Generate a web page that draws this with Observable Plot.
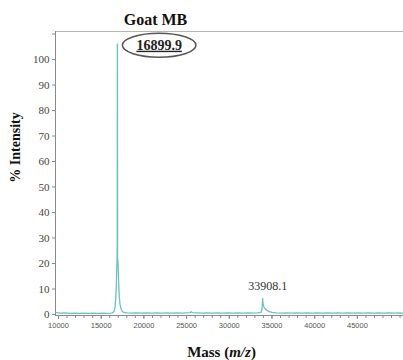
<!DOCTYPE html>
<html><head><meta charset="utf-8">
<script src="https://cdn.jsdelivr.net/npm/d3@7"></script>
<script src="https://cdn.jsdelivr.net/npm/@observablehq/plot@0.6"></script>
<style>body{margin:0;background:#fff}</style>
</head><body><div id="chart"></div>
<script>
// Spectrum (mass vs % intensity)
const masses = [9700, 10200, 10800, 11300, 11900, 12400, 13000, 13500, 14100, 14600, 15200, 15700, 16100, 16300, 16500, 16600, 16700, 16780, 16830, 16860, 16880, 16895, 16905, 16920, 16960, 17000, 17050, 17120, 17200, 17300, 17450, 17650, 18000, 18500, 19100, 19700, 20300, 20900, 21500, 22100, 22700, 23300, 23900, 24500, 25000, 25400, 25550, 25700, 26200, 26800, 27400, 28000, 28600, 29200, 29800, 30400, 31000, 31600, 32200, 32800, 33300, 33700, 33800, 33870, 33908, 33950, 34000, 34100, 34250, 34450, 34700, 35000, 35500, 36100, 36700, 37300, 37900, 38500, 39100, 39700, 40300, 40900, 41500, 42100, 42700, 43300, 43900, 44500, 45100, 45700, 46300, 46900, 47500, 48100, 48700, 49300, 49900, 50400];
const intensities = [0.7, 0.5, 0.6, 0.4, 0.5, 0.4, 0.5, 0.4, 0.5, 0.4, 0.5, 0.4, 0.5, 0.6, 1.2, 2.5, 6, 12, 19, 21, 30, 106, 106, 22, 21, 18, 12, 7, 4, 2.5, 1.3, 0.8, 0.6, 0.5, 0.6, 0.5, 0.6, 0.5, 0.6, 0.5, 0.6, 0.5, 0.6, 0.5, 0.6, 0.7, 1.1, 0.7, 0.6, 0.5, 0.6, 0.5, 0.6, 0.5, 0.6, 0.5, 0.6, 0.5, 0.6, 0.5, 0.6, 0.8, 1.5, 4, 6.3, 4.5, 3.5, 2.6, 2, 1.5, 1.1, 0.8, 0.6, 0.5, 0.6, 0.5, 0.6, 0.5, 0.6, 0.5, 0.6, 0.5, 0.6, 0.5, 0.6, 0.5, 0.6, 0.5, 0.6, 0.5, 0.6, 0.5, 0.6, 0.5, 0.6, 0.5, 0.6, 0.5];

const mainPeakLabel = ["16899.9"];
const mainPeakMass = [16899.9];
const mainPeakHeight = [106];
const dimerLabel = ["33908.1"];
const dimerMass = [33908.1];
const dimerHeight = [6.3];

const xMajorTicks = [10000, 15000, 20000, 25000, 30000, 35000, 40000, 45000];
const xMinorTicks = [10000, 11000, 12000, 13000, 14000, 15000, 16000, 17000, 18000, 19000, 20000, 21000, 22000, 23000, 24000, 25000, 26000, 27000, 28000, 29000, 30000, 31000, 32000, 33000, 34000, 35000, 36000, 37000, 38000, 39000, 40000, 41000, 42000, 43000, 44000, 45000, 46000, 47000, 48000, 49000, 50000];
const yTicks = [0, 10, 20, 30, 40, 50, 60, 70, 80, 90, 100, 110];
const xDomain = [9650, 50400];
const yDomain = [-0.4, 111];

const titleText = "Goat MB";
const yTitle = "% Intensity";

const data = masses.map((m, i) => ({mass: m, intensity: intensities[i]}));
const serif = "'Liberation Serif', 'Times New Roman', serif";

const plot = Plot.plot({
  width: 403, height: 360,
  marginLeft: 55, marginRight: 0, marginTop: 31, marginBottom: 45,
  x: {domain: xDomain},
  y: {domain: yDomain},
  style: {background: "white", overflow: "visible", fontFamily: serif},
  marks: [
    Plot.ruleY([yDomain[1]], {stroke: "#b5b5b5"}),
    Plot.ruleX([xDomain[0]], {stroke: "#8a8a8a"}),
    Plot.ruleY([yDomain[0]], {stroke: "#8a8a8a"}),
    Plot.axisY({ticks: yTicks, tickSize: 3, tickPadding: 3, fontSize: 11, fontFamily: serif,
      tickFormat: d => d === 110 ? "" : d, stroke: "#8a8a8a", fill: "#444", label: null}),
    Plot.axisX({ticks: xMinorTicks, tickSize: 3, stroke: "#8a8a8a", text: null, label: null}),
    Plot.axisX({ticks: xMajorTicks, tickSize: 4, tickPadding: 3, fontSize: 7.5,
      fontFamily: "'Liberation Sans', Arial, sans-serif", tickFormat: d => String(d),
      stroke: "#8a8a8a", fill: "#555", label: null}),
    Plot.line(data, {x: "mass", y: "intensity", stroke: "#6cc2be", strokeWidth: 1.3}),
    Plot.text(mainPeakLabel, {x: mainPeakMass, y: mainPeakHeight, text: d => d, textAnchor: "start",
      dx: 19, dy: 1, fontSize: 14, fontWeight: "bold", fontFamily: serif, fill: "#222"}),
    Plot.text(dimerLabel, {x: dimerMass, y: dimerHeight, text: d => d, dx: 5, dy: -12,
      fontSize: 12, fontFamily: serif, fill: "#333"}),
    Plot.text([titleText], {frameAnchor: "top-left", text: d => d, dx: 100, dy: -12,
      textAnchor: "middle", lineAnchor: "middle",
      fontSize: 16, fontWeight: "bold", fontFamily: serif, fill: "#111"}),
    Plot.text([yTitle], {frameAnchor: "left", text: d => d, dx: -40, dy: -26, rotate: -90,
      textAnchor: "middle", lineAnchor: "middle",
      fontSize: 14, fontWeight: "bold", fontFamily: serif, fill: "#111"}),
    Plot.text(["Mass (m/z)"], {frameAnchor: "bottom", text: d => d, dx: -8, dy: 37,
      textAnchor: "middle", lineAnchor: "middle",
      fontSize: 15, fontWeight: "bold", fontFamily: serif, fill: "#111"})
  ]
});
document.getElementById("chart").appendChild(plot);

const svg = d3.select(plot);
const svgRect = plot.getBoundingClientRect();
svg.selectAll("text").each(function() {
  const t = d3.select(this);
  const s = this.textContent;
  if (s === mainPeakLabel[0]) {
    t.attr("text-decoration", "underline");
    const b = this.getBoundingClientRect();
    const cx = b.left - svgRect.left + b.width / 2;
    const cy = b.top - svgRect.top + b.height / 2;
    svg.append("ellipse")
      .attr("cx", cx).attr("cy", cy)
      .attr("rx", b.width / 2 + 14).attr("ry", 12)
      .attr("fill", "none").attr("stroke", "#555").attr("stroke-width", 1.5);
  }
  if (s === "Mass (m/z)") {
    t.text(null);
    t.append("tspan").text("Mass (");
    t.append("tspan").attr("font-style", "italic").text("m/z");
    t.append("tspan").text(")");
  }
});
</script>
</body></html>
